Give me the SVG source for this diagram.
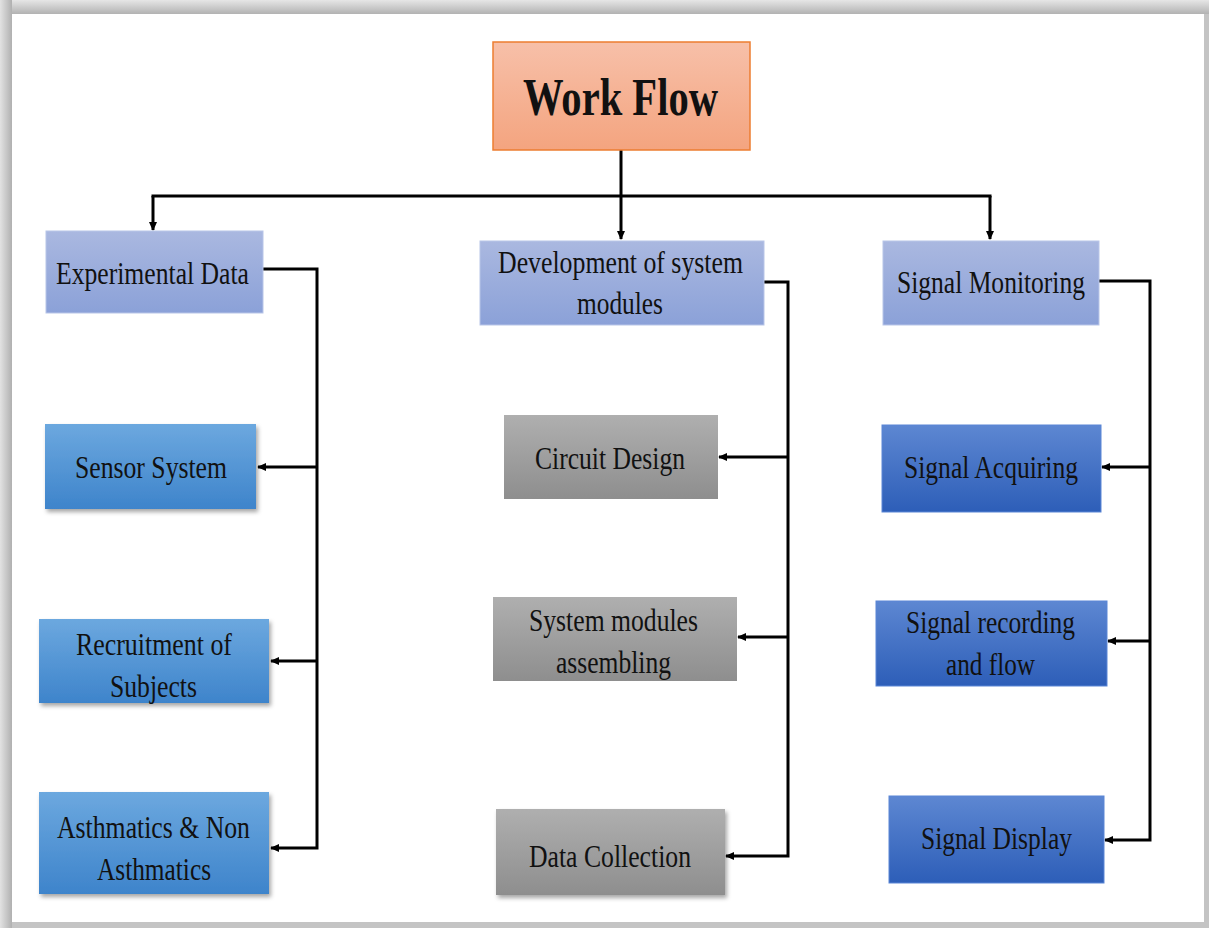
<svg xmlns="http://www.w3.org/2000/svg" width="1209" height="928" viewBox="0 0 1209 928">
<defs>
<linearGradient id="gTop" x1="0" y1="0" x2="0" y2="1"><stop offset="0" stop-color="#E6E6E6"/><stop offset="1" stop-color="#B2B2B2"/></linearGradient>
<linearGradient id="gLeft" x1="0" y1="0" x2="1" y2="0"><stop offset="0" stop-color="#E2E2E2"/><stop offset="1" stop-color="#B0B0B0"/></linearGradient>
<linearGradient id="gOrange" x1="0" y1="0" x2="0" y2="1"><stop offset="0" stop-color="#F7C0A9"/><stop offset="1" stop-color="#F4A47F"/></linearGradient>
<linearGradient id="gLav" x1="0" y1="0" x2="0" y2="1"><stop offset="0" stop-color="#AAB8E0"/><stop offset="1" stop-color="#8BA1D8"/></linearGradient>
<linearGradient id="gBlue" x1="0" y1="0" x2="0" y2="1"><stop offset="0" stop-color="#6CA8DF"/><stop offset="1" stop-color="#3E84CB"/></linearGradient>
<linearGradient id="gDark" x1="0" y1="0" x2="0" y2="1"><stop offset="0" stop-color="#5D87D2"/><stop offset="1" stop-color="#2D5EB8"/></linearGradient>
<linearGradient id="gGray" x1="0" y1="0" x2="0" y2="1"><stop offset="0" stop-color="#AFAFAF"/><stop offset="1" stop-color="#8E8E8E"/></linearGradient>
<filter id="sh" x="-10%" y="-10%" width="125%" height="130%"><feDropShadow dx="2" dy="3" stdDeviation="2" flood-color="#000" flood-opacity="0.35"/></filter>
<marker id="ah" viewBox="0 0 10 10" refX="9" refY="5" markerWidth="9" markerHeight="9" markerUnits="userSpaceOnUse" orient="auto"><path d="M0,0.5 L10,5 L0,9.5 z" fill="#000"/></marker>
</defs>
<style>
.t{font-family:"Liberation Serif","Times New Roman",serif;font-size:31px;fill:#111;text-anchor:middle}
.c{fill:none;stroke:#000;stroke-width:3}
.a{fill:none;stroke:#000;stroke-width:3;marker-end:url(#ah)}
</style>
<rect x="0" y="0" width="1209" height="928" fill="#C4C4C4"/>
<rect x="0" y="0" width="1209" height="14" fill="url(#gTop)"/>
<rect x="0" y="0" width="12" height="928" fill="url(#gLeft)"/>
<rect x="12" y="14" width="1192" height="908" fill="#FFFFFF"/>

<g id="connectors">
<path class="a" d="M621,150 V239"/>
<path class="c" d="M151.5,196 H991.5"/>
<path class="a" d="M153,196 V230"/>
<path class="a" d="M990,196 V239"/>
<path class="a" d="M263,269 H317 V848 H271"/>
<path class="a" d="M317,467 H258"/>
<path class="a" d="M317,661 H271"/>
<path class="a" d="M764,282 H788 V856 H726"/>
<path class="a" d="M788,457 H719"/>
<path class="a" d="M788,637 H738"/>
<path class="a" d="M1099,281 H1150 V840 H1105"/>
<path class="a" d="M1150,467 H1102"/>
<path class="a" d="M1150,641 H1108"/>
</g>

<g id="workflow">
<rect x="493" y="42" width="257" height="108" fill="url(#gOrange)" stroke="#ED7D31" stroke-width="1.5"/>
<text x="620.5" y="115" font-family="Liberation Serif, Times New Roman, serif" font-size="53" font-weight="bold" text-anchor="middle" fill="#111" textLength="195" lengthAdjust="spacingAndGlyphs">Work Flow</text>
</g>

<g id="experimental-data">
<rect x="46" y="231" width="217" height="82" fill="url(#gLav)" stroke="#B8C5E8" stroke-width="1"/>
<text class="t" x="152.5" y="284" textLength="193" lengthAdjust="spacingAndGlyphs">Experimental Data</text>
</g>
<g id="sensor-system">
<rect x="45" y="424" width="211" height="85" fill="url(#gBlue)" filter="url(#sh)"/>
<text class="t" x="151" y="478" textLength="152" lengthAdjust="spacingAndGlyphs">Sensor System</text>
</g>
<g id="recruitment">
<rect x="39" y="619" width="230" height="84" fill="url(#gBlue)" filter="url(#sh)"/>
<text class="t" x="154" y="655" textLength="156" lengthAdjust="spacingAndGlyphs">Recruitment of</text>
<text class="t" x="153.5" y="697" textLength="87" lengthAdjust="spacingAndGlyphs">Subjects</text>
</g>
<g id="asthmatics">
<rect x="39" y="792" width="230" height="102" fill="url(#gBlue)" filter="url(#sh)"/>
<text class="t" x="153.5" y="838" textLength="193" lengthAdjust="spacingAndGlyphs">Asthmatics &amp; Non</text>
<text class="t" x="154" y="880" textLength="114" lengthAdjust="spacingAndGlyphs">Asthmatics</text>
</g>

<g id="development">
<rect x="480" y="241" width="284" height="84" fill="url(#gLav)" stroke="#B8C5E8" stroke-width="1"/>
<text class="t" x="620.5" y="273" textLength="245" lengthAdjust="spacingAndGlyphs">Development of system</text>
<text class="t" x="620" y="314" textLength="86" lengthAdjust="spacingAndGlyphs">modules</text>
</g>
<g id="circuit-design">
<rect x="504" y="415" width="214" height="84" fill="url(#gGray)"/>
<text class="t" x="610" y="469" textLength="150" lengthAdjust="spacingAndGlyphs">Circuit Design</text>
</g>
<g id="system-modules">
<rect x="493" y="597" width="244" height="84" fill="url(#gGray)"/>
<text class="t" x="613.5" y="631" textLength="169" lengthAdjust="spacingAndGlyphs">System modules</text>
<text class="t" x="613.5" y="673" textLength="115" lengthAdjust="spacingAndGlyphs">assembling</text>
</g>
<g id="data-collection">
<rect x="496" y="809" width="229" height="86" fill="url(#gGray)" filter="url(#sh)"/>
<text class="t" x="610" y="867" textLength="162" lengthAdjust="spacingAndGlyphs">Data Collection</text>
</g>

<g id="signal-monitoring">
<rect x="883" y="241" width="216" height="84" fill="url(#gLav)" stroke="#B8C5E8" stroke-width="1"/>
<text class="t" x="991" y="293" textLength="188" lengthAdjust="spacingAndGlyphs">Signal Monitoring</text>
</g>
<g id="signal-acquiring">
<rect x="882" y="425" width="219" height="87" fill="url(#gDark)" stroke="#5A86D6" stroke-width="1"/>
<text class="t" x="991" y="478" textLength="174" lengthAdjust="spacingAndGlyphs">Signal Acquiring</text>
</g>
<g id="signal-recording">
<rect x="876" y="601" width="231" height="85" fill="url(#gDark)" stroke="#5A86D6" stroke-width="1"/>
<text class="t" x="990.5" y="633" textLength="169" lengthAdjust="spacingAndGlyphs">Signal recording</text>
<text class="t" x="990.5" y="675" textLength="89" lengthAdjust="spacingAndGlyphs">and flow</text>
</g>
<g id="signal-display">
<rect x="889" y="796" width="215" height="87" fill="url(#gDark)" stroke="#5A86D6" stroke-width="1"/>
<text class="t" x="996.5" y="849" textLength="151" lengthAdjust="spacingAndGlyphs">Signal Display</text>
</g>
</svg>
